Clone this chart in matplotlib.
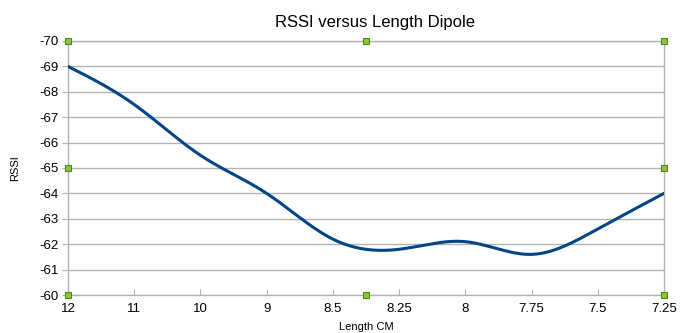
import numpy as np
import matplotlib.pyplot as plt

plt.rcParams['font.family'] = ['Liberation Sans', 'DejaVu Sans']
plt.rcParams['axes.unicode_minus'] = False

lengths = ['12', '11', '10', '9', '8.5', '8.25', '8', '7.75', '7.5', '7.25']
rssi = [-69.0, -67.5, -65.5, -64.0, -62.2, -61.8, -62.1, -61.6, -62.6, -64.0]

GRID = '#b3b3b3'
LINE = '#004586'


def natural_spline(x, y, n=400):
    # plain natural cubic spline, just for drawing the smoothed line
    x = np.asarray(x, float)
    y = np.asarray(y, float)
    k = len(x)
    h = np.diff(x)
    A = np.zeros((k, k))
    b = np.zeros(k)
    A[0, 0] = A[-1, -1] = 1
    for i in range(1, k - 1):
        A[i, i - 1] = h[i - 1]
        A[i, i] = 2 * (h[i - 1] + h[i])
        A[i, i + 1] = h[i]
        b[i] = 3 * ((y[i + 1] - y[i]) / h[i] - (y[i] - y[i - 1]) / h[i - 1])
    c = np.linalg.solve(A, b)
    xs = np.linspace(x[0], x[-1], n)
    idx = np.clip(np.searchsorted(x, xs) - 1, 0, k - 2)
    dx = xs - x[idx]
    bb = (y[idx + 1] - y[idx]) / h[idx] - h[idx] * (2 * c[idx] + c[idx + 1]) / 3
    dd = (c[idx + 1] - c[idx]) / (3 * h[idx])
    return xs, y[idx] + bb * dx + c[idx] * dx ** 2 + dd * dx ** 3


fig = plt.figure(figsize=(6.82, 3.33), dpi=100)
ax = fig.add_axes([0.0997, 0.1141, 0.8739, 0.7628])

pos = np.arange(len(lengths))
xs, ys = natural_spline(pos, rssi)
ax.plot(xs, ys, color=LINE, linewidth=2.2, solid_capstyle='round', zorder=3)

ax.set_xlim(0, len(lengths) - 1)
ax.set_ylim(-60, -70)
ax.set_yticks(np.arange(-70, -59, 1))
ax.set_xticks(pos)
ax.set_xticklabels(lengths)
ax.yaxis.grid(True, color=GRID, linewidth=1.0)
ax.set_axisbelow(True)

for s in ax.spines.values():
    s.set_color(GRID)
    s.set_linewidth(1.0)

ax.tick_params(axis='x', direction='in', length=4.5, color=GRID, labelsize=9.5, pad=6)
ax.tick_params(axis='y', direction='out', length=4.5, color=GRID, labelsize=9.5, pad=2)

ax.set_title('RSSI versus Length Dipole', fontsize=12, pad=10, x=0.515)
ax.set_xlabel('Length CM', fontsize=8, labelpad=5)
ax.set_ylabel('RSSI', fontsize=8, labelpad=14)

# selection handles around the plot area
hx = [0, 0.5, 1, 0, 1, 0, 0.5, 1]
hy = [1, 1, 1, 0.5, 0.5, 0, 0, 0]
ax.plot(hx, hy, 's', transform=ax.transAxes, markersize=5,
        markerfacecolor='#8cc63f', markeredgecolor='#4f8a10',
        markeredgewidth=0.8, clip_on=False, zorder=5, linestyle='none')

fig.savefig('out.png', dpi=100)
